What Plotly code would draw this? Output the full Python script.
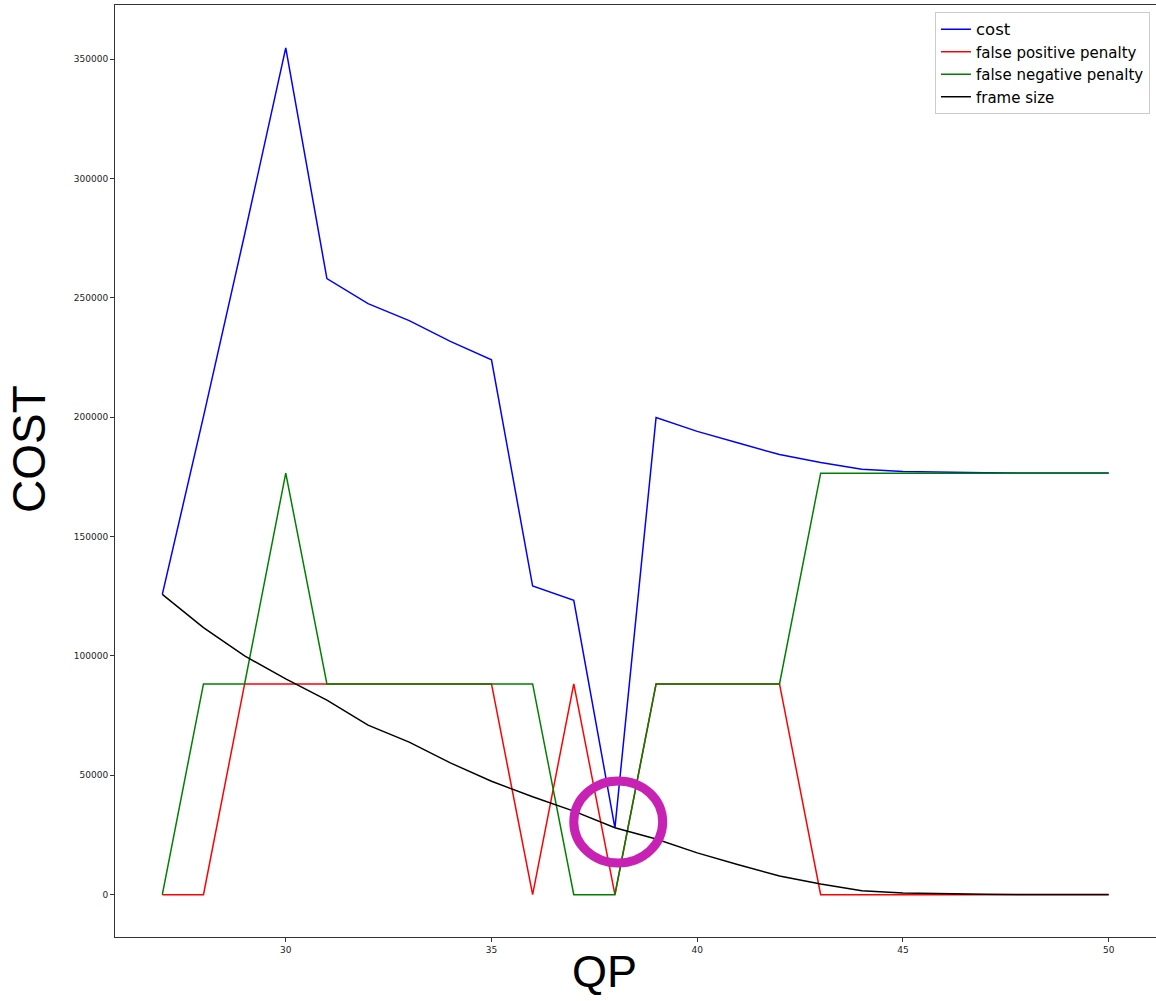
import plotly.graph_objects as go

qp = list(range(27, 51))

cost = [125800, 200300, 276600, 354800, 258100, 247600, 240500, 231800, 224100,
        129300, 123300, 28000, 199900, 194100, 189200, 184400, 181100, 178200,
        177300, 176900, 176750, 176680, 176640, 176620]
false_positive = [0, 0, 88300, 88300, 88300, 88300, 88300, 88300, 88300,
                  0, 88300, 0, 88300, 88300, 88300, 88300, 0, 0,
                  0, 0, 0, 0, 0, 0]
false_negative = [0, 88300, 88300, 176600, 88300, 88300, 88300, 88300, 88300,
                  88300, 0, 0, 88300, 88300, 88300, 88300, 176600, 176600,
                  176600, 176600, 176600, 176600, 176600, 176600]
frame_size = [125800, 111900, 100000, 90400, 81500, 71000, 63900, 55200, 47500,
              41000, 35000, 28000, 23300, 17500, 12500, 7800, 4500, 1600,
              700, 300, 150, 80, 40, 20]

y_ticks = [0, 50000, 100000, 150000, 200000, 250000, 300000, 350000]
x_ticks = [30, 35, 40, 45, 50]

# highlight circle (data coords)
circle_x = [37.0, 39.16]
circle_y = [13260, 47660]

fig = go.Figure()
series = [("<span style='font-size:16.5px'>cost</span>", cost, "blue"),
          ("false positive penalty", false_positive, "red"),
          ("false negative penalty", false_negative, "green"),
          ("frame size", frame_size, "black")]
for name, vals, col in series:
    fig.add_trace(go.Scatter(x=qp, y=vals, mode="lines", name=name,
                             line=dict(color=col, width=1.5)))

fig.add_shape(type="circle", xref="x", yref="y",
              x0=circle_x[0], x1=circle_x[1], y0=circle_y[0], y1=circle_y[1],
              line=dict(color="#C822B4", width=9))

axis_common = dict(showgrid=False, zeroline=False, showline=True, mirror=True,
                   linecolor="#333", linewidth=1, ticks="outside", ticklen=4,
                   tickcolor="#333", tickfont=dict(family="DejaVu Sans", size=9, color="#222"))

fig.update_xaxes(range=[25.85, 51.15], tickvals=x_ticks, **axis_common)
fig.update_yaxes(range=[-17750, 372750], tickvals=y_ticks,
                 ticktext=[str(v) for v in y_ticks], **axis_common)

fig.add_annotation(text="COST", xref="paper", yref="paper", x=-0.0826, y=0.5236,
                   textangle=-90, showarrow=False, xanchor="center", yanchor="middle",
                   font=dict(family="Liberation Sans", size=46, color="black"))
fig.add_annotation(text="QP", xref="paper", yref="paper", x=0.4707, y=-0.037,
                   showarrow=False, xanchor="center", yanchor="middle",
                   font=dict(family="Liberation Sans", size=45, color="black"))

fig.update_layout(
    width=1156, height=1001,
    margin=dict(l=115, r=0, t=5, b=64),
    plot_bgcolor="white", paper_bgcolor="white",
    legend=dict(x=0.9942, y=0.9925, xanchor="right", yanchor="top",
                bgcolor="white", bordercolor="#ccc", borderwidth=1,
                font=dict(family="DejaVu Sans", size=15, color="black"),
                itemwidth=30, tracegroupgap=0),
    showlegend=True,
)

fig.write_html("out.html")
